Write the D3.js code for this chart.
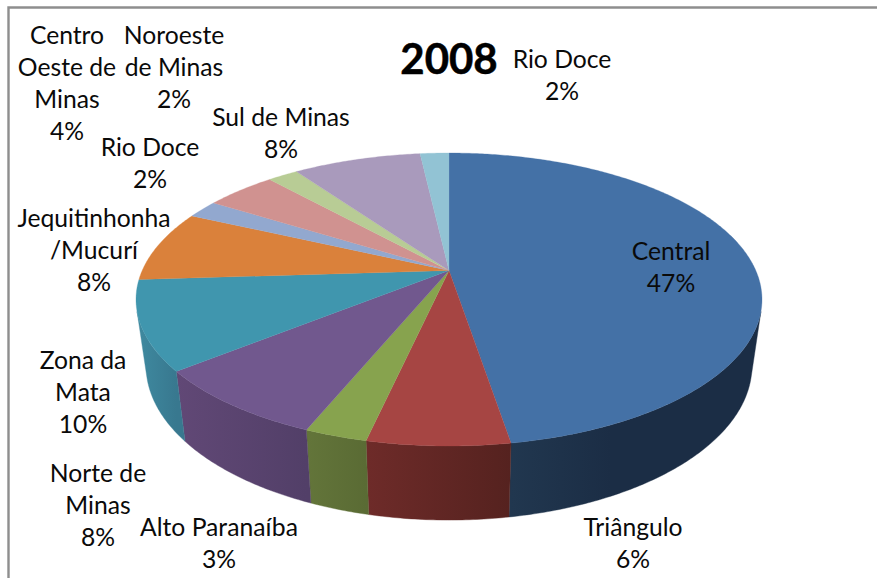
<!DOCTYPE html>
<html><head><meta charset="utf-8">
<script src="https://cdn.jsdelivr.net/npm/d3@7"></script>
<style>html,body{margin:0;padding:0;background:#fff}svg{display:block}</style>
</head><body><svg id="c" width="877" height="578"></svg>
<script>
const title = "2008";
const categories = ["Central","Triângulo","Alto Paranaíba","Norte de Minas","Zona da Mata","Jequitinhonha /Mucurí","Rio Doce","Centro Oeste de Minas","Noroeste de Minas","Sul de Minas","Rio Doce"];
const values = [47.4,6.1,2.7,8.0,9.8,7.9,2.0,4.4,1.9,8.0,1.8];
const labelLines = [["Central"],["Triângulo"],["Alto Paranaíba"],["Norte de","Minas"],["Zona da","Mata"],["Jequitinhonha","/Mucurí"],["Rio Doce"],["Centro","Oeste de","Minas"],["Noroeste","de Minas"],["Sul de Minas"],["Rio Doce"]];

const topColors = ["#4471a6","#a64543","#87a34e","#71588e","#4096ae","#da813b","#92a8cf","#d09290","#b8cc95","#a99abc","#92c3d4"];
const wallLight = ["#21374f","#6e2b29","#63753a","#614876","#3f8aa0","#a8622a","#6f80a0","#a06f6e","#8c9c70","#81758f","#6f95a2"];
const wallDark  = ["#1b2d45","#55221f","#5a6b34","#523f68","#38788f","#8f5322","#5f6d88","#88605e","#778560","#6e647a","#5f7f8a"];
// label centre x / first-line centre y, one per slice
const labelPos = [[671,251],[633,527],[219,527],[98,473],[83,360],[94,218],[150,147],[67,35],[174,35],[281,117],[562,59]];
const lineStep = 32;

const svg = d3.select("#c");
// frame
svg.append("path").attr("d","M877,7.5H8.5V578").attr("fill","none").attr("stroke","#8e8e8e").attr("stroke-width",2.4);

// perspective projection of the pie's unit disc
const cx=449, k=-0.198, ya=87.2, yb=270.5, R=306.8;
const proj=(t,r=1)=>{const u=r*Math.sin(t),v=-r*Math.cos(t),w=1+k*v;return [cx+R*u/w,(ya*v+yb)/w];};
const low=([x,y])=>[cx+(x-cx)*0.968, y+70+0.055*(y-372)];
const line=d3.line();

const pie=d3.pie().sort(null).value(d=>d)(values);
const defs=svg.append("defs");
const arcPts=(a0,a1)=>{const n=Math.max(2,Math.ceil((a1-a0)/0.01));return d3.range(n+1).map(i=>a0+(a1-a0)*i/n);};

// walls: visible front arc only
const wallStart=106*Math.PI/180, wallEnd=254*Math.PI/180;
const walls=svg.append("g");
pie.forEach((s,i)=>{
  const a0=Math.max(s.startAngle,wallStart), a1=Math.min(s.endAngle,wallEnd);
  if(a1<=a0) return;
  const ts=arcPts(a0,a1), topP=ts.map(t=>proj(t)), botP=topP.map(low);
  const gid="w"+i, xa=d3.extent(topP,p=>p[0]);
  const g=defs.append("linearGradient").attr("id",gid).attr("gradientUnits","userSpaceOnUse")
    .attr("x1",xa[0]).attr("x2",xa[1]).attr("y1",0).attr("y2",0);
  if(i===0){g.append("stop").attr("offset",0).attr("stop-color",wallLight[i]);g.append("stop").attr("offset",0.4).attr("stop-color",wallDark[i]);g.append("stop").attr("offset",1).attr("stop-color",wallDark[i]);}
  else{g.append("stop").attr("offset",0).attr("stop-color",wallLight[i]);g.append("stop").attr("offset",1).attr("stop-color",wallDark[i]);}
  walls.append("path").attr("d",line(topP.concat(botP.reverse()))+"Z").attr("fill",`url(#${gid})`).attr("stroke",`url(#${gid})`).attr("stroke-width",0.4);
});

// top faces
const faces=svg.append("g");
pie.forEach((s,i)=>{
  const pts=[proj(0,0)].concat(arcPts(s.startAngle,s.endAngle).map(t=>proj(t)));
  faces.append("path").attr("d",line(pts)+"Z").attr("fill",topColors[i]).attr("stroke",topColors[i]).attr("stroke-width",0.3);
});

// title
svg.append("text").attr("x",449).attr("y",59).attr("dy","0.35em").attr("text-anchor","middle")
  .attr("font-family","Lato, 'Open Sans', sans-serif").attr("font-weight",700).attr("font-size",42).attr("fill","#000").attr("stroke","#000").attr("stroke-width",0.5).text(title);

// labels
const fmt=d3.format(".0f");
const lab=svg.append("g").attr("font-family","Lato, 'Open Sans', sans-serif").attr("font-size",24.7).attr("fill","#0a0a0a").attr("text-anchor","middle");
labelLines.forEach((ls,i)=>{
  const [x,y]=labelPos[i];
  ls.concat([fmt(values[i])+"%"]).forEach((t,j)=>{
    lab.append("text").attr("x",x).attr("y",y+j*lineStep).attr("dy","0.35em").text(t);
  });
});
</script></body></html>
